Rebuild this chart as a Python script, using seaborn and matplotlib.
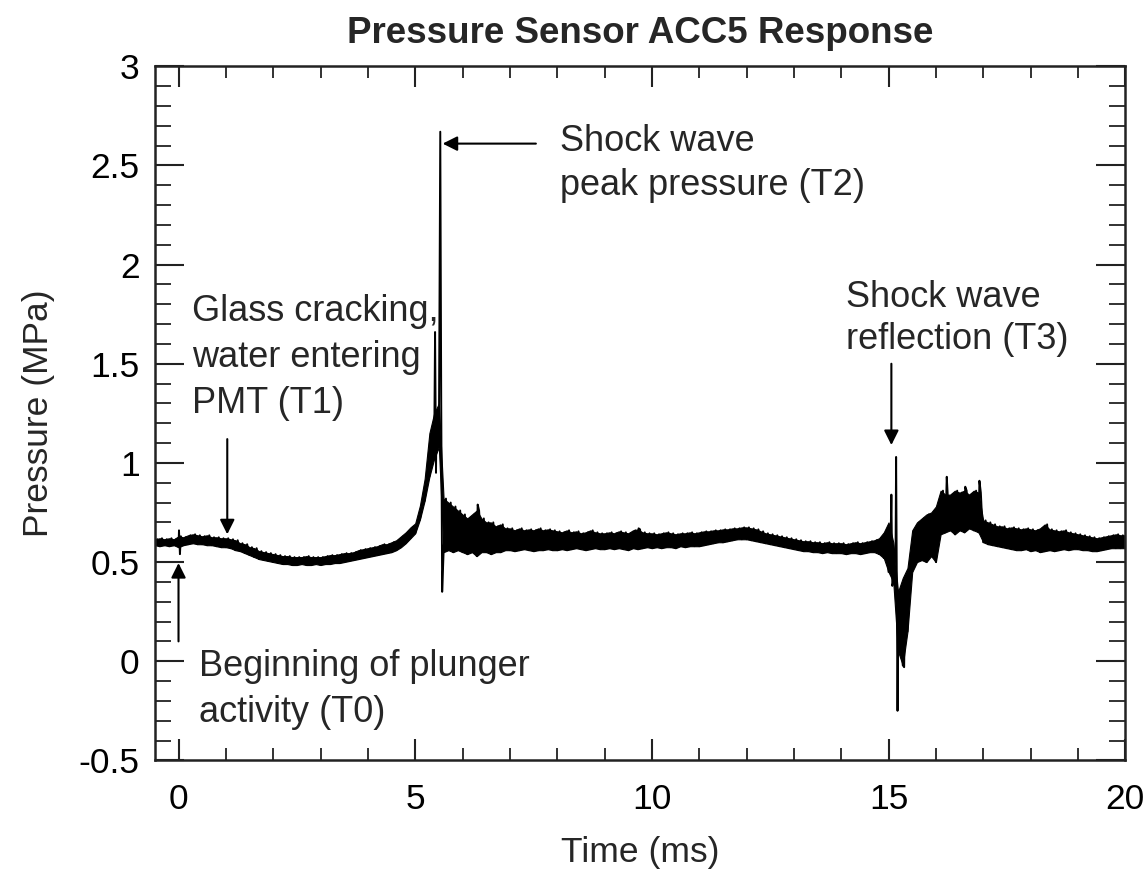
import numpy as np
import pandas as pd
import matplotlib
matplotlib.use("Agg")
import matplotlib.pyplot as plt
from matplotlib.ticker import MultipleLocator, FuncFormatter
import seaborn as sns

# ---- data (time in ms, pressure in MPa) ----
# band sampled every 0.1 ms from -0.5 to 20.0: lower edge at t, upper edge at t+0.05
band_start = -0.5
band_step = 0.1
band_lo = [
    0.585, 0.58, 0.585, 0.58, 0.585,
    0.575, 0.585, 0.59, 0.595, 0.59, 0.59, 0.585, 0.585, 0.58, 0.575,
    0.575, 0.57, 0.56, 0.555, 0.545, 0.535, 0.525, 0.515, 0.51, 0.505,
    0.50, 0.495, 0.49, 0.49, 0.485, 0.485, 0.49, 0.485, 0.485, 0.49,
    0.485, 0.49, 0.49, 0.495, 0.495, 0.50, 0.505, 0.51, 0.515, 0.52,
    0.525, 0.53, 0.535, 0.54, 0.545, 0.55, 0.56, 0.575, 0.595, 0.62,
    0.645, 0.715, 0.81, 0.93, 1.02, 1.08, 0.55, 0.56, 0.55, 0.56,
    0.55, 0.54, 0.55, 0.53, 0.55, 0.55, 0.54, 0.55, 0.55, 0.56,
    0.56, 0.555, 0.56, 0.565, 0.56, 0.555, 0.56, 0.56, 0.565, 0.56,
    0.56, 0.565, 0.56, 0.565, 0.57, 0.565, 0.56, 0.565, 0.57, 0.565,
    0.565, 0.57, 0.565, 0.57, 0.565, 0.56, 0.57, 0.565, 0.57, 0.575,
    0.57, 0.575, 0.57, 0.575, 0.575, 0.57, 0.58, 0.575, 0.58, 0.58,
    0.58, 0.585, 0.59, 0.595, 0.60, 0.60, 0.605, 0.61, 0.615, 0.615,
    0.615, 0.61, 0.605, 0.60, 0.595, 0.59, 0.585, 0.58, 0.575, 0.57,
    0.565, 0.56, 0.555, 0.555, 0.55, 0.55, 0.545, 0.55, 0.545, 0.545,
    0.545, 0.54, 0.545, 0.545, 0.54, 0.545, 0.55, 0.55, 0.54, 0.52,
    0.45, 0.40, 0.05, -0.02, 0.15, 0.45, 0.50, 0.51, 0.50, 0.53,
    0.50, 0.64, 0.65, 0.66, 0.64, 0.66, 0.65, 0.67, 0.66, 0.65,
    0.60, 0.59, 0.585, 0.58, 0.575, 0.57, 0.565, 0.56, 0.56, 0.565,
    0.555, 0.56, 0.55, 0.555, 0.56, 0.555, 0.56, 0.565, 0.56, 0.565,
    0.565, 0.56, 0.56, 0.555, 0.555, 0.56, 0.565, 0.57, 0.57, 0.57,
    0.57,
]
band_hi = [
    0.615, 0.62, 0.615, 0.62, 0.615,
    0.63, 0.625, 0.635, 0.64, 0.635, 0.63, 0.635, 0.625, 0.625, 0.62,
    0.62, 0.615, 0.61, 0.595, 0.59, 0.575, 0.57, 0.555, 0.55, 0.545,
    0.54, 0.535, 0.53, 0.53, 0.525, 0.525, 0.525, 0.53, 0.525, 0.525,
    0.525, 0.53, 0.535, 0.535, 0.54, 0.545, 0.545, 0.55, 0.56, 0.565,
    0.57, 0.575, 0.58, 0.59, 0.59, 0.60, 0.61, 0.63, 0.65, 0.675,
    0.695, 0.785, 0.92, 1.15, 1.25, 1.30, 0.82, 0.80, 0.78, 0.76,
    0.74, 0.72, 0.74, 0.76, 0.72, 0.70, 0.70, 0.68, 0.69, 0.67,
    0.67, 0.66, 0.67, 0.66, 0.665, 0.66, 0.67, 0.66, 0.665, 0.66,
    0.655, 0.65, 0.66, 0.65, 0.655, 0.645, 0.65, 0.66, 0.65, 0.645,
    0.645, 0.65, 0.645, 0.655, 0.65, 0.645, 0.66, 0.665, 0.65, 0.645,
    0.645, 0.64, 0.645, 0.65, 0.645, 0.64, 0.645, 0.645, 0.65, 0.645,
    0.65, 0.655, 0.655, 0.66, 0.66, 0.665, 0.665, 0.67, 0.67, 0.675,
    0.675, 0.67, 0.665, 0.655, 0.645, 0.64, 0.635, 0.63, 0.625, 0.62,
    0.615, 0.61, 0.605, 0.605, 0.60, 0.60, 0.595, 0.60, 0.595, 0.595,
    0.595, 0.59, 0.595, 0.60, 0.595, 0.60, 0.605, 0.61, 0.62, 0.65,
    0.70, 0.60, 0.35, 0.42, 0.47, 0.66, 0.70, 0.72, 0.74, 0.75,
    0.78, 0.86, 0.84, 0.84, 0.86, 0.85, 0.86, 0.84, 0.86, 0.85,
    0.71, 0.70, 0.69, 0.68, 0.68, 0.67, 0.675, 0.67, 0.665, 0.67,
    0.665, 0.66, 0.67, 0.69, 0.665, 0.66, 0.655, 0.66, 0.65, 0.645,
    0.64, 0.635, 0.63, 0.625, 0.62, 0.625, 0.63, 0.635, 0.64, 0.635,
    0.635,
]
# isolated spikes
spike_time = [0.01, 0.03, 5.42, 5.44, 5.53, 5.57, 6.32, 9.72,
              15.06, 15.08, 15.16, 15.19, 15.33, 16.23, 16.62, 16.92]
spike_pressure = [0.66, 0.54, 1.66, 0.95, 2.67, 0.35, 0.79, 0.67,
                  0.84, 0.38, 1.03, -0.25, -0.03, 0.93, 0.88, 0.91]

x_ticks = [0, 5, 10, 15, 20]
y_ticks = [-0.5, 0, 0.5, 1, 1.5, 2, 2.5, 3]

# ---- build the trace ----
n = len(band_lo)
t_lo = np.round(band_start + band_step * np.arange(n), 3)
t_hi = np.round(t_lo + band_step / 2, 3)
df = pd.DataFrame({
    "time": np.concatenate([t_lo, t_hi, spike_time]),
    "pressure": np.concatenate([band_lo, band_hi, spike_pressure]),
}).sort_values("time").reset_index(drop=True)

sns.set_theme(style="ticks")
plt.rcParams["font.family"] = ["Liberation Sans", "DejaVu Sans"]

fig = plt.figure(figsize=(11.47, 8.72), dpi=100)
ax = fig.add_axes([0.135, 0.128, 0.846, 0.796])

ax.fill_between(t_lo, band_lo, band_hi, color="black", linewidth=0.8)
sns.lineplot(data=df, x="time", y="pressure", estimator=None, sort=True,
             color="black", linewidth=1.4, ax=ax)

ax.set_xlim(-0.5, 20)
ax.set_ylim(-0.5, 3)
ax.set_xticks(x_ticks)
ax.set_yticks(y_ticks)
ax.xaxis.set_minor_locator(MultipleLocator(1))
ax.yaxis.set_minor_locator(MultipleLocator(0.1))
ax.xaxis.set_major_formatter(FuncFormatter(lambda v, p: "%g" % v))
ax.yaxis.set_major_formatter(FuncFormatter(lambda v, p: "%g" % v))
ax.tick_params(axis="both", which="both", direction="in", top=True, right=True,
               colors="#222222", labelcolor="black", labelsize=25.5)
ax.tick_params(axis="x", which="major", length=15, width=1.5, pad=16)
ax.tick_params(axis="x", which="minor", length=8.5, width=1.3)
ax.tick_params(axis="y", which="major", length=21, width=1.5, pad=11)
ax.tick_params(axis="y", which="minor", length=11.5, width=1.3)
for s in ax.spines.values():
    s.set_linewidth(1.8)
    s.set_color("#222222")

ax.set_xlabel("Time (ms)", fontsize=25.5, labelpad=15)
ax.set_ylabel("Pressure (MPa)", fontsize=25.5, labelpad=17)
ax.set_title("Pressure Sensor ACC5 Response", fontsize=26.5, fontweight="bold", pad=17)

fs = 26
ls = 1.4
ax.text(0.28, 1.85, "Glass cracking,\nwater entering\nPMT (T1)", fontsize=fs,
        ha="left", va="top", linespacing=ls)
ax.text(0.43, 0.06, "Beginning of plunger\nactivity (T0)", fontsize=fs,
        ha="left", va="top", linespacing=ls)
ax.text(8.06, 2.71, "Shock wave\npeak pressure (T2)", fontsize=fs,
        ha="left", va="top", linespacing=1.35)
ax.text(14.1, 1.92, "Shock wave\nreflection (T3)", fontsize=fs,
        ha="left", va="top", linespacing=1.25)

ap = dict(arrowstyle="-|>", color="black", lw=1.5, mutation_scale=22, shrinkA=0, shrinkB=0)
ax.annotate("", xy=(5.58, 2.61), xytext=(7.55, 2.61), arrowprops=ap)
ax.annotate("", xy=(1.03, 0.64), xytext=(1.03, 1.12), arrowprops=ap)
ax.annotate("", xy=(0.0, 0.495), xytext=(0.0, 0.10), arrowprops=ap)
ax.annotate("", xy=(15.06, 1.09), xytext=(15.06, 1.50), arrowprops=ap)

fig.savefig("out.png", dpi=100)
